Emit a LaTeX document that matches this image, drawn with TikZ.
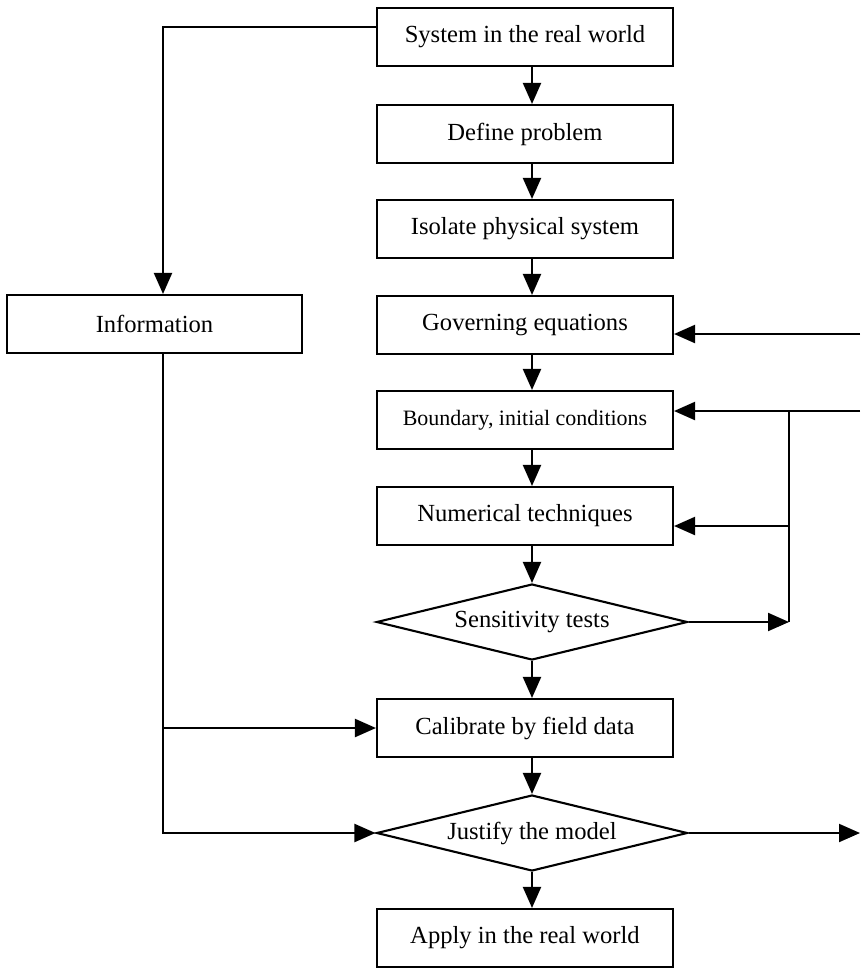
\documentclass[tikz,border=0pt]{standalone}
\usepackage{fontspec}
\setmainfont{Liberation Serif}
\usetikzlibrary{shapes.geometric,arrows.meta}
\tikzset{flow box/.style={
    draw, line width=1.2pt, minimum width=5.92cm, minimum height=1.16cm,
    inner sep=0pt, font=\fontsize{14}{16}\selectfont},
  flow test/.style={
    draw, diamond, aspect=4, line width=1.2pt, minimum width=6.22cm,
    minimum height=1.52cm, inner sep=0pt, font=\fontsize{14}{16}\selectfont},
  flow arrow/.style={line width=1.2pt, -{Triangle[length=0.42cm,width=0.36cm]}}
}

\begin{document}
\begin{tikzpicture}[x=0.02cm, y=-0.02cm]
        \useasboundingbox (0,0) rectangle (860,968);
        %main column
        \node[flow box](sys) at (525,37){System in the real world};
        \node[flow box](def) at (525,134){Define problem};
        \node[flow box](iso) at (525,229){Isolate physical system};
        \node[flow box](gov) at (525,325){Governing equations};
        \node[flow box, font=\fontsize{12.5}{15}\selectfont](bound) at (525,420){Boundary, initial conditions};
        \node[flow box](num) at (525,516){Numerical techniques};
        \node[flow test](sens) at (532,622){Sensitivity tests};
        \node[flow box](cal) at (525,728){Calibrate by field data};
        \node[flow test](just) at (532,833){Justify the model};
        \node[flow box](apply) at (525,938){Apply in the real world};
        \node[flow box, minimum width=5.9cm](info) at (154.5,324){Information};

        %free ends and joints
        \coordinate (left) at (163,27);
        \coordinate (gin) at (860,334);
        \coordinate (bin) at (860,411);
        \coordinate (bj) at (789,411);
        \coordinate (nj) at (789,526);
        \coordinate (out) at (860,833);

        \foreach \a/\b in {sys/def,def/iso,iso/gov,gov/bound,bound/num,num/sens,sens/cal,cal/just,just/apply}
          \draw[flow arrow] (\a.south -| sens.north) -- (\b.north -| sens.north);

        %Information branch
        \draw[flow arrow] (left -| sys.west) -- (left) -- (left |- info.north);
        \draw[flow arrow] (left |- info.south) |- (just.west);
        \draw[flow arrow] (left |- cal.west) -- (cal.west);

        %feedback on the right
        \draw[flow arrow] (gin) -- (gin -| gov.east);
        \draw[flow arrow] (bin) -- (bin -| bound.east);
        \draw[flow arrow] (nj) -- (nj -| num.east);
        \draw[line width=1.2pt] (bj) -- (bj |- sens.east);
        \draw[flow arrow] (sens.east) -- (bj |- sens.east);
        \draw[flow arrow] (just.east) -- (out);
\end{tikzpicture}
\end{document}
